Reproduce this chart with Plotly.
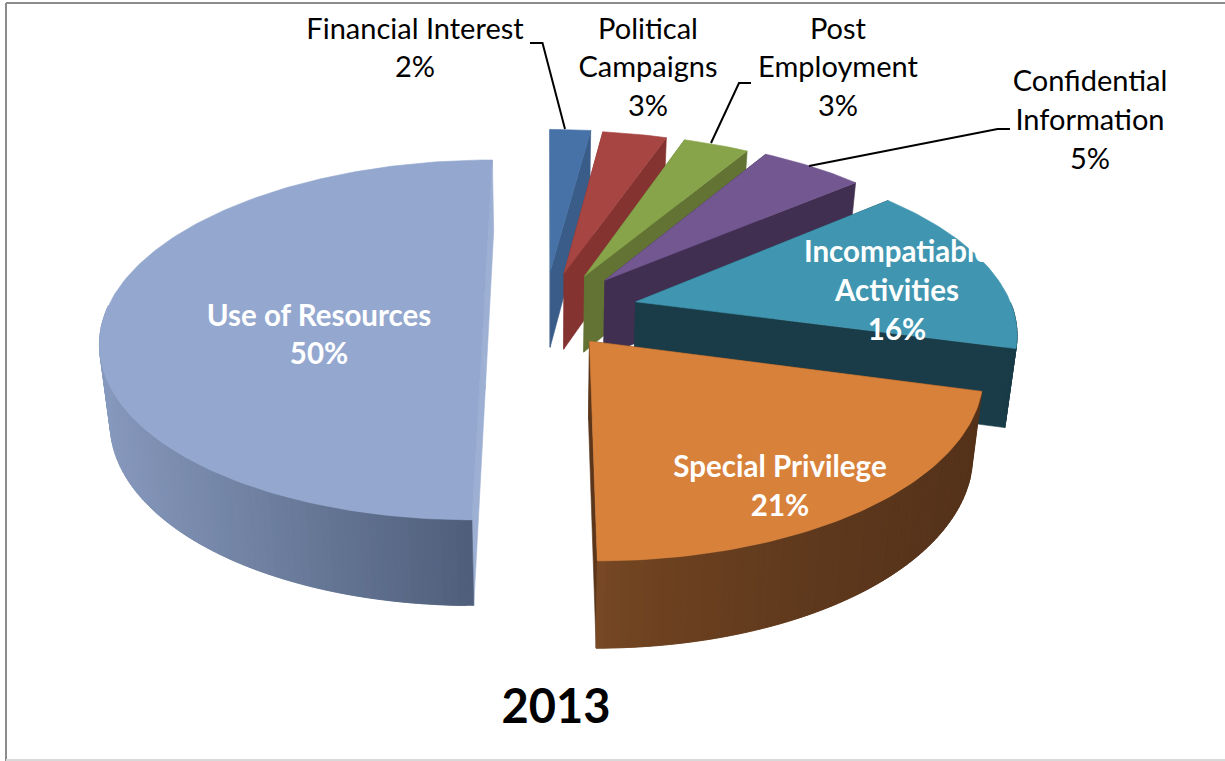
import math
import plotly.graph_objects as go

# Ethics complaint categories for 2013, clockwise from twelve o'clock
categories = ["Financial Interest", "Political Campaigns", "Post Employment",
              "Confidential Information", "Incompatiable Activities",
              "Special Privilege", "Use of Resources"]
shares = [2, 3, 3, 5, 16, 21, 50]

# Pie geometry, in page pixels
CX, CY = 548, 312
RADIUS_X, RADIUS_Y = 378, 175.6
TILT = 0.155
DEPTH = 77.5
DEPTH_POWER = 0.6
BASE_SCALE = 0.976
VIEW_SKEW = 3.0
explode_x = [0.006, 0.044, 0.100, 0.155, 0.234, 0.107, -0.170]
explode_y = [-0.2395, -0.228, -0.211, -0.186, -0.0585, 0.162, 0.0]

top_colors = ["#4672a8", "#a64542", "#88a44b", "#725791", "#4096b0", "#d8813b", "#94a8cf"]
side_colors = ["#3a5c88", "#843331", "#627334", "#402f50", "#1a3c48", "#5b361a", "#9db0d4"]
wall_left = ["#3a5c88", "#843331", "#627334", "#402f50", "#1a3c48", "#7b4a24", "#8799bd"]
wall_right = ["#3a5c88", "#843331", "#627334", "#402f50", "#1a3c48", "#54321a", "#4f5f7b"]
wall_gamma = [1, 1, 1, 1, 1, 0.6, 1]


def project(theta, radius, ex, ey, base=False):
    """Map a point of the tilted pie onto the page."""
    skewed = theta + VIEW_SKEW * math.sin(math.radians(2 * theta)) ** 2
    t = math.radians(skewed)
    gx = radius * math.sin(t) + ex
    gy = -radius * math.cos(t) + ey
    w = 1 - TILT * gy
    x, y = RADIUS_X * gx / w, RADIUS_Y * gy / w
    if base:
        x *= BASE_SCALE
        y += DEPTH / w ** DEPTH_POWER
    return CX + x, CY + y


def blend(c1, c2, t):
    a = [int(c1[i:i + 2], 16) for i in (1, 3, 5)]
    b = [int(c2[i:i + 2], 16) for i in (1, 3, 5)]
    return "#" + "".join(f"{round(p + (q - p) * t):02x}" for p, q in zip(a, b))


def polygon(points, color):
    return go.Scatter(
        x=[p[0] for p in points] + [points[0][0]],
        y=[p[1] for p in points] + [points[0][1]],
        mode="lines", fill="toself", fillcolor=color,
        line=dict(color=color, width=0.6), hoverinfo="skip", showlegend=False,
    )


def text_line(x, y, label, size, color, bold=False):
    return go.Scatter(
        x=[x], y=[y], mode="text", text=[f"<b>{label}</b>" if bold else label],
        textposition="middle center",
        textfont=dict(family="Lato", size=size, color=color),
        hoverinfo="skip", showlegend=False,
    )


def leader(xs, ys):
    return go.Scatter(x=xs, y=ys, mode="lines", line=dict(color="#000000", width=2),
                      hoverinfo="skip", showlegend=False)


fig = go.Figure()
start = 0.0
for i, share in enumerate(shares):
    end = start + share * 3.6
    ex, ey = explode_x[i], explode_y[i]
    steps = max(2, int(end - start))
    angles = [start + (end - start) * k / steps for k in range(steps + 1)]

    # radial faces
    for edge in (start, end):
        fig.add_trace(polygon([
            project(0, 0, ex, ey), project(edge, 1, ex, ey),
            project(edge, 1, ex, ey, True), project(0, 0, ex, ey, True),
        ], side_colors[i]))

    # outer wall, only where it turns towards the viewer; each strip laps under the next
    vis = [a for a in angles if 90 <= a <= 272]
    if len(vis) > 1:
        xs = [project(a, 1, ex, ey)[0] for a in vis]
        lo, hi = min(xs), max(xs)
        for j in range(len(vis) - 1):
            a0, a1 = vis[j], vis[min(j + 2, len(vis) - 1)]
            p0, p1 = project(a0, 1, ex, ey), project(a1, 1, ex, ey)
            frac = ((p0[0] - lo) / (hi - lo)) ** wall_gamma[i]
            fig.add_trace(polygon([p0, p1, project(a1, 1, ex, ey, True),
                                   project(a0, 1, ex, ey, True)],
                                  blend(wall_left[i], wall_right[i], frac)))

    # top face
    rim = [project(a, 1, ex, ey) for a in angles]
    fig.add_trace(polygon([project(0, 0, ex, ey)] + rim, top_colors[i]))
    start = end

# leader lines
fig.add_trace(leader([530, 542.5, 565], [43, 43, 129]))
fig.add_trace(leader([751, 739, 711], [83, 83, 143]))
fig.add_trace(leader([1010, 997.5, 809], [129, 129, 166]))

# outside labels
for x, y, label in [
    (415, 32, "Financial Interest"), (415, 70, f"{shares[0]}%"),
    (648, 32, "Political"), (648, 70, "Campaigns"), (648, 109, f"{shares[1]}%"),
    (838, 32, "Post"), (838, 70, "Employment"), (838, 109, f"{shares[2]}%"),
    (1090, 84, "Confidential"), (1090, 123, "Information"), (1090, 162, f"{shares[3]}%"),
]:
    fig.add_trace(text_line(x, y, label, 29, "#000000"))

# labels printed on the slices
for x, y, label in [
    (897, 255, "Incompatiable"), (897, 294, "Activities"), (897, 333, f"{shares[4]}%"),
    (780, 470, "Special Privilege"), (780, 509, f"{shares[5]}%"),
    (319, 319, "Use of Resources"), (319, 357, f"{shares[6]}%"),
]:
    fig.add_trace(text_line(x, y, label, 29.5, "#ffffff", bold=True))

fig.add_trace(text_line(556, 711, "2013", 47, "#000000", bold=True))

fig.update_layout(
    width=1225, height=761, margin=dict(l=0, r=0, t=0, b=0), autosize=False,
    paper_bgcolor="#ffffff", plot_bgcolor="#ffffff", showlegend=False,
    xaxis=dict(range=[0, 1225], visible=False, fixedrange=True),
    yaxis=dict(range=[761, 0], visible=False, fixedrange=True),
    shapes=[
        dict(type="line", x0=6, x1=1225, y0=3, y1=3, line=dict(color="#8c8c8c", width=2)),
        dict(type="line", x0=6, x1=6, y0=3, y1=761, line=dict(color="#8c8c8c", width=2)),
        dict(type="line", x0=6, x1=1225, y0=760, y1=760, line=dict(color="#d9d9d9", width=2)),
    ],
)
fig.write_html("out.html", config=dict(displayModeBar=False))
